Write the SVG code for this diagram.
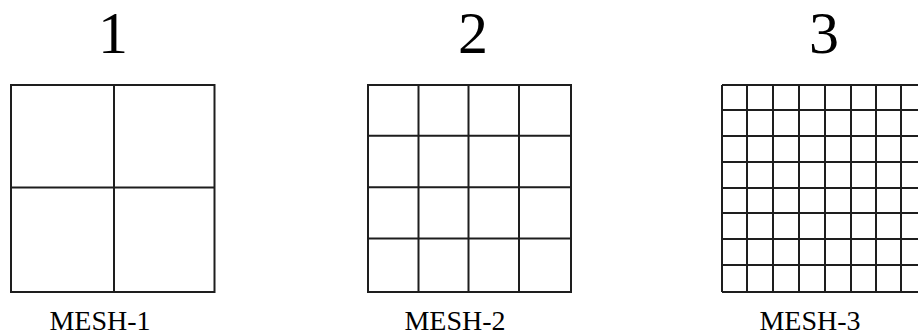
<svg xmlns="http://www.w3.org/2000/svg" width="918" height="335" viewBox="0 0 918 335">
<style>
.t{font-family:"Liberation Serif","Times New Roman",serif;fill:#000;text-anchor:middle}
.n{font-size:60px}
.l{font-size:28px}
.g{fill:none;stroke:#1e1e1e;stroke-width:2}
</style>
<rect width="918" height="335" fill="#fff"/>
<g id="mesh1">
<text class="t n" x="113" y="53">1</text>
<rect class="g" x="11" y="85" width="203.5" height="207"/>
<path class="g" d="M114 85V292M11 187.5H214.5"/>
<text class="t l" x="100" y="330">MESH-1</text>
</g>
<g id="mesh2">
<text class="t n" x="473" y="53">2</text>
<rect class="g" x="368" y="85" width="203" height="207"/>
<path class="g" d="M418.5 85V292M468.5 85V292M519 85V292M368 135.7H571M368 187.3H571M368 238.5H571"/>
<text class="t l" x="455" y="330">MESH-2</text>
</g>
<g id="mesh3">
<text class="t n" x="824" y="53">3</text>
<path class="g" d="M722 85H930M722 110H930M722 136H930M722 162H930M722 188H930M722 213H930M722 239H930M722 265H930M722 292H930M722 85V292M747 85V292M773 85V292M799 85V292M825 85V292M851 85V292M876 85V292M901 85V292M927 85V292"/>
<text class="t l" x="810" y="330">MESH-3</text>
</g>
<g id="connectors"/>
</svg>
